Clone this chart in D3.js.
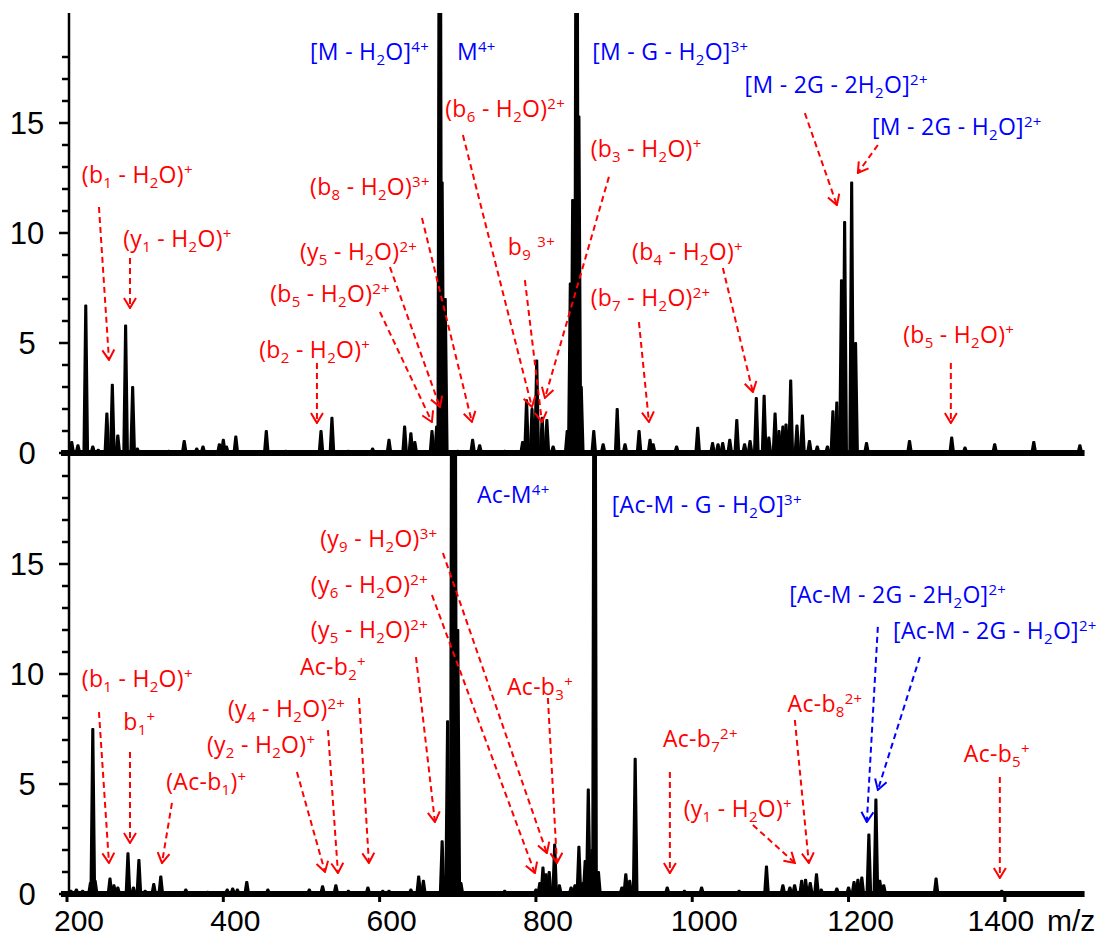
<!DOCTYPE html>
<html>
<head>
<meta charset="utf-8">
<script src="https://cdn.jsdelivr.net/npm/d3@7"></script>
<style>
  body { margin: 0; background: #fff; }
  text { white-space: pre; }
</style>
</head>
<body>
<script>
// peaks: [m/z, relative intensity]
// intensities above 20 are off scale and get clipped at the top of the panel
const topPeaks = [
  [206,0.5],[214,0.35],[224,6.7],[233,0.3],[240,0.15],[251,1.8],[258,3.1],[265,0.8],[275,5.8],[284,3.0],
  [290,0.2],[330,0.1],[350,0.55],[366,0.2],[374,0.3],[395,0.4],[400,0.6],[404,0.3],[416,0.75],[455,1.0],
  [480,0.1],[525,1.0],[539,1.6],[560,0.1],[591,0.2],[612,0.6],[632,1.2],[640,0.9],[645,0.5],[667,1.0],
  [673,1.2],[677,40],[680,12.3],[684,7.0],[700,0.1],[719,0.6],[728,0.35],[760,0.1],[783,0.5],[788,2.4],
  [795,2.0],[801,4.2],[808,1.6],[814,1.5],[822,0.3],[840,1.0],[844,7.7],[847,11.5],[852,40],[855,15.3],
  [858,3.0],[874,1.0],[886,0.4],[904,2.0],[914,0.4],[932,1.0],[946,0.6],[950,0.4],[980,0.3],[1007,1.15],
  [1026,0.45],[1033,0.4],[1039,0.45],[1048,0.6],[1057,1.5],[1067,0.4],[1074,0.55],[1082,2.5],[1092,2.6],
  [1098,0.7],[1106,1.8],[1111,1.0],[1116,1.2],[1120,1.3],[1126,3.3],[1134,1.25],[1141,1.7],[1150,0.55],
  [1160,0.3],[1173,0.3],[1180,1.9],[1185,2.3],[1191,7.85],[1195,10.5],[1204,12.3],[1209,5.0],[1223,0.45],
  [1278,0.55],[1332,0.7],[1349,0.25],[1387,0.4],[1437,0.5],[1496,0.35]
];
const bottomPeaks = [
  [205,0.15],[212,0.2],[220,0.15],[230,0.5],[233,7.5],[236,0.6],[255,0.7],[260,0.4],[265,0.3],[278,1.85],
  [285,0.3],[292,1.55],[300,0.15],[311,0.45],[320,0.8],[352,0.2],[380,0.1],[405,0.2],[412,0.25],[418,0.2],
  [430,0.55],[457,0.2],[510,0.2],[527,0.35],[544,0.4],[560,0.15],[585,0.3],[604,0.15],[612,0.15],[640,0.2],
  [650,0.8],[656,0.6],[680,2.4],[684,0.8],[687,7.85],[693,40],[696,40],[700,12],[704,0.5],[760,0.15],
  [800,0.2],[805,0.5],[809,1.2],[813,0.9],[817,1.0],[824,2.25],[830,0.4],[845,0.3],[850,0.4],[855,2.15],
  [860,0.5],[863,1.5],[867,4.75],[872,2.0],[875,40],[880,1.0],[910,0.3],[915,0.9],[920,0.6],[927,6.15],
  [968,0.3],[990,0.15],[1012,0.3],[1060,0.15],[1095,1.25],[1116,0.4],[1125,0.3],[1131,0.4],[1140,0.6],
  [1145,0.65],[1151,0.5],[1159,0.9],[1165,0.2],[1185,0.25],[1200,0.3],[1207,0.55],[1212,0.65],[1217,0.75],
  [1226,2.7],[1235,4.3],[1240,0.6],[1245,0.4],[1312,0.7],[1396,0.15]
];

const xTicks = [200, 400, 600, 800, 1000, 1200, 1400];
const yMajor = [0, 5, 10, 15];

// labels: _x subscript, ^x superscript. kind "prec" = blue, else red
const topLabels = [
  {t:"[M - H_2O]^{4+}", mz:511, v:17.86, kind:"prec"},
  {t:"M^{4+}", mz:699, v:17.86, kind:"prec"},
  {t:"[M - G - H_2O]^{3+}", mz:872, v:17.86, kind:"prec"},
  {t:"[M - 2G - 2H_2O]^{2+}", mz:1067, v:16.36, kind:"prec"},
  {t:"[M - 2G - H_2O]^{2+}", mz:1230, v:14.45, kind:"prec"},
  {t:"(b_6 - H_2O)^{2+}", mz:684, v:15.27},
  {t:"(b_3 - H_2O)^+", mz:870, v:13.45},
  {t:"(b_1 - H_2O)^+", mz:219, v:12.27},
  {t:"(b_8 - H_2O)^{3+}", mz:511, v:11.73},
  {t:"(y_1 - H_2O)^+", mz:272, v:9.36},
  {t:"(y_5 - H_2O)^{2+}", mz:498, v:8.77},
  {t:"b_9 ^{3+}", mz:764, v:9.0},
  {t:"(b_4 - H_2O)^+", mz:923, v:8.77},
  {t:"(b_5 - H_2O)^{2+}", mz:460, v:6.86},
  {t:"(b_7 - H_2O)^{2+}", mz:870, v:6.68},
  {t:"(b_2 - H_2O)^+", mz:446, v:4.32},
  {t:"(b_5 - H_2O)^+", mz:1270, v:5.0}
];
const topArrows = [
  {from:[240.9,11.18], to:[253.7,4.23]},
  {from:[280.6,8.86], to:[280.6,6.59]},
  {from:[519.8,4.09], to:[519.8,1.36]},
  {from:[600.4,6.41], to:[666.9,1.41]},
  {from:[613.2,8.45], to:[677.2,2.09]},
  {from:[654.2,10.68], to:[718.1,1.41]},
  {from:[706.6,14.45], to:[794.9,2.09]},
  {from:[785.9,7.86], to:[807.7,1.41]},
  {from:[893.4,12.55], to:[811.5,2.5]},
  {from:[931.8,5.95], to:[944.6,1.41]},
  {from:[1039.2,8.41], to:[1077.6,2.77]},
  {from:[1144.1,15.45], to:[1185.1,11.27]},
  {from:[1237.5,14.0], to:[1211.9,12.73]},
  {from:[1330.9,4.09], to:[1330.9,1.36]}
];

const bottomLabels = [
  {t:"Ac-M^{4+}", mz:724.5, v:17.77, kind:"prec"},
  {t:"[Ac-M - G - H_2O]^{3+}", mz:897, v:17.32, kind:"prec"},
  {t:"(y_9 - H_2O)^{3+}", mz:524, v:15.77},
  {t:"(y_6 - H_2O)^{2+}", mz:512, v:13.68},
  {t:"(y_5 - H_2O)^{2+}", mz:512, v:11.64},
  {t:"Ac-b_2^+", mz:498, v:9.95},
  {t:"(b_1 - H_2O)^+", mz:219, v:9.41},
  {t:"(y_4 - H_2O)^{2+}", mz:406, v:8.05},
  {t:"b_1^+", mz:272, v:7.45},
  {t:"(y_2 - H_2O)^+", mz:379, v:6.41},
  {t:"(Ac-b_1)^+", mz:327, v:4.73},
  {t:"Ac-b_3^+", mz:763, v:9.05},
  {t:"Ac-b_7^{2+}", mz:962.5, v:6.68},
  {t:"(y_1 - H_2O)^+", mz:989, v:3.5},
  {t:"Ac-b_8^{2+}", mz:1122, v:8.27},
  {t:"[Ac-M - 2G - 2H_2O]^{2+}", mz:1124, v:13.25, kind:"prec"},
  {t:"[Ac-M - 2G - H_2O]^{2+}", mz:1257, v:11.6, kind:"prec"},
  {t:"Ac-b_5^+", mz:1347.5, v:6.0}
];
const bottomArrows = [
  {from:[240.9,8.27], to:[253.7,1.41]},
  {from:[280.6,6.45], to:[280.6,2.32]},
  {from:[334.3,4.14], to:[321.5,1.41]},
  {from:[494.2,5.55], to:[530.1,1.0]},
  {from:[533.9,7.45], to:[546.7,0.95]},
  {from:[573.6,8.91], to:[586.3,1.41]},
  {from:[646.5,10.77], to:[670.8,3.27]},
  {from:[667,13.59], to:[798.7,0.95]},
  {from:[681,15.5], to:[814,1.86]},
  {from:[815.3,8.91], to:[826.9,1.41]},
  {from:[971.4,5.55], to:[971.4,0.95]},
  {from:[1077.6,3.14], to:[1131.3,1.41]},
  {from:[1131.3,7.91], to:[1149.2,1.41]},
  {from:[1237.5,12.14], to:[1223.4,3.27], kind:"prec"},
  {from:[1291.2,10.77], to:[1237.5,4.73], kind:"prec"},
  {from:[1393.6,5.32], to:[1393.6,0.73]}
];

const W = 1109, H = 939;
const RED = "#ff0000", BLUE = "#0000ff";
const labelFont = "'Open Sans', 'Noto Sans', sans-serif";
const axisFont = "'Liberation Sans', Arial, sans-serif";
const labelSize = 23, scriptSize = 15;

const svg = d3.select("body").append("svg")
  .attr("width", W).attr("height", H)
  .style("background", "#fff");

const x = d3.scaleLinear().domain([200, 1500]).range([67, 1083]);
const yTop = d3.scaleLinear().domain([0, 20]).range([453, 13]);
const yBot = d3.scaleLinear().domain([0, 20]).range([894, 454]);
const axisX = 69;

const defs = svg.append("defs");
[["red", RED], ["blue", BLUE]].forEach(([id, c]) => {
  defs.append("marker")
    .attr("id", "head-" + id)
    .attr("viewBox", "-1 -7 12 14")
    .attr("refX", 10).attr("refY", 0)
    .attr("markerUnits", "userSpaceOnUse")
    .attr("markerWidth", 12).attr("markerHeight", 14)
    .attr("orient", "auto")
    .append("path")
    .attr("d", "M0,-6L10,0L0,6")
    .attr("fill", "none")
    .attr("stroke", c)
    .attr("stroke-width", 2);
});

function parseMarkup(s) {
  const segs = [];
  let i = 0, buf = "";
  while (i < s.length) {
    const c = s[i];
    if (c === "_" || c === "^") {
      if (buf) { segs.push({t: buf, k: 0}); buf = ""; }
      i++;
      let g;
      if (s[i] === "{") { const j = s.indexOf("}", i); g = s.slice(i + 1, j); i = j + 1; }
      else { g = s[i]; i++; }
      segs.push({t: g, k: c === "_" ? 1 : -1});
    } else { buf += c; i++; }
  }
  if (buf) segs.push({t: buf, k: 0});
  return segs;
}

function drawPanel(name, peaks, y, labels, arrows) {
  const g = svg.append("g");
  const clipId = "clip-" + name;
  defs.append("clipPath").attr("id", clipId)
    .append("rect")
    .attr("x", axisX).attr("y", y.range()[1])
    .attr("width", W - axisX).attr("height", y.range()[0] - y.range()[1] + 4);

  // peaks
  const area = d3.area()
    .x(d => x(d[0]))
    .y0(y(0))
    .y1(d => y(d[1]));
  const hw = 3;
  g.append("g").attr("clip-path", `url(#${clipId})`)
    .selectAll("path")
    .data(peaks)
    .join("path")
    .attr("d", p => area([[p[0] - hw, 0], [p[0] - 0.7, p[1]], [p[0] + 0.7, p[1]], [p[0] + hw, 0]]))
    .attr("fill", "#000")
    .attr("stroke", "#000")
    .attr("stroke-width", 2)
    .attr("stroke-linejoin", "round");

  // thick noisy baseline
  g.append("line")
    .attr("x1", axisX - 8).attr("x2", x(1502))
    .attr("y1", y(0)).attr("y2", y(0))
    .attr("stroke", "#000").attr("stroke-width", 6);

  // y axis
  g.append("line")
    .attr("x1", axisX).attr("x2", axisX)
    .attr("y1", y.range()[1]).attr("y2", y(0) + 3)
    .attr("stroke", "#000").attr("stroke-width", 2.5);
  const minor = d3.range(0, name === "top" ? 19 : 20);
  g.selectAll(".tick").data(minor).join("line")
    .attr("x1", v => yMajor.includes(v) ? axisX - 10 : axisX - 7)
    .attr("x2", axisX)
    .attr("y1", v => y(v)).attr("y2", v => y(v))
    .attr("stroke", "#000").attr("stroke-width", 2.5);
  g.selectAll(".ylab").data(yMajor).join("text")
    .attr("x", 27).attr("y", v => y(v) + 11)
    .attr("text-anchor", "middle")
    .attr("font-family", axisFont)
    .attr("font-size", 31)
    .attr("fill", "#000")
    .text(v => v);

  // arrows
  g.selectAll(".arrow").data(arrows).join("line")
    .attr("x1", a => x(a.from[0])).attr("y1", a => y(a.from[1]))
    .attr("x2", a => x(a.to[0])).attr("y2", a => y(a.to[1]))
    .attr("stroke", a => a.kind === "prec" ? BLUE : RED)
    .attr("stroke-width", 2)
    .attr("stroke-dasharray", "6,4")
    .attr("marker-end", a => a.kind === "prec" ? "url(#head-blue)" : "url(#head-red)");

  // labels
  labels.forEach(l => {
    const t = g.append("text")
      .attr("x", x(l.mz)).attr("y", y(l.v))
      .attr("font-family", labelFont)
      .attr("font-size", labelSize)
      .attr("letter-spacing", 0.3)
      .attr("fill", l.kind === "prec" ? BLUE : RED);
    let cur = 0;
    parseMarkup(l.t).forEach(s => {
      const shift = s.k === 1 ? 5 : s.k === -1 ? -8 : 0;
      t.append("tspan")
        .attr("dy", shift - cur)
        .attr("font-size", s.k === 0 ? labelSize : scriptSize)
        .text(s.t);
      cur = shift;
    });
  });
}

drawPanel("top", topPeaks, yTop, topLabels, topArrows);
drawPanel("bottom", bottomPeaks, yBot, bottomLabels, bottomArrows);

// x axis under the bottom panel
const xa = svg.append("g");
xa.selectAll("line").data(xTicks).join("line")
  .attr("x1", v => x(v)).attr("x2", v => x(v))
  .attr("y1", yBot(0)).attr("y2", yBot(0) + 8)
  .attr("stroke", "#000").attr("stroke-width", 3);
xa.selectAll("text").data(xTicks).join("text")
  .attr("x", (v, i) => x(v) + (i === xTicks.length - 1 ? -4 : 12))
  .attr("y", 931)
  .attr("text-anchor", "middle")
  .attr("font-family", axisFont)
  .attr("font-size", 30)
  .attr("fill", "#000")
  .text(v => v);
xa.append("text")
  .attr("x", 1047).attr("y", 931)
  .attr("font-family", axisFont)
  .attr("font-size", 30)
  .attr("fill", "#000")
  .text("m/z");
</script>
</body>
</html>
